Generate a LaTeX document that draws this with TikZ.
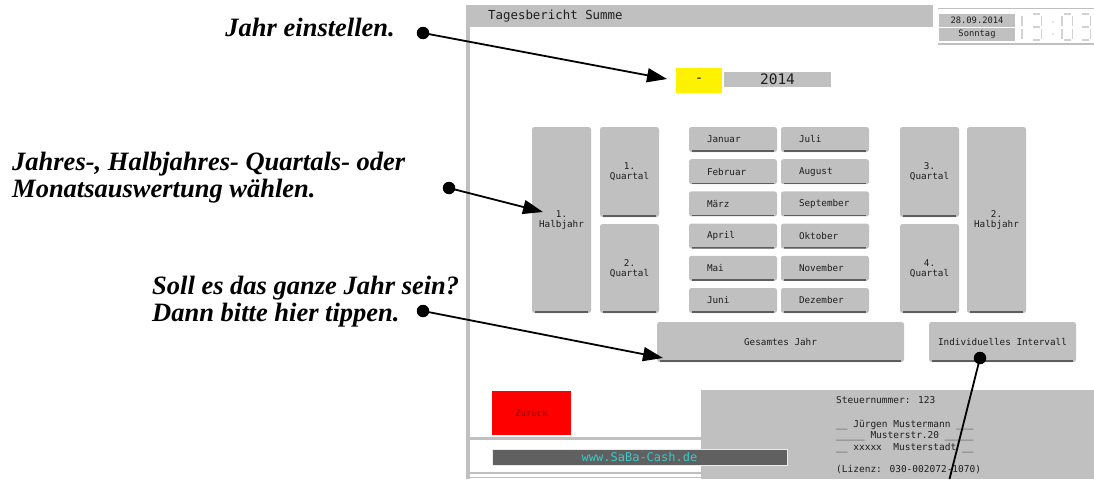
\documentclass[tikz,border=0pt]{standalone}
\usepackage{fontspec}
\newfontfamily\annotfont{Liberation Serif}
\newfontfamily\uifont{DejaVu Sans Mono}
\usetikzlibrary{arrows.meta,calc}
\definecolor{panel}{HTML}{C0C0C0}
\definecolor{btnedge}{HTML}{5E5E5E}
\definecolor{uitext}{HTML}{1E1E1E}
\definecolor{webbar}{HTML}{606060}
\definecolor{webtext}{HTML}{3CC8C8}
\definecolor{backred}{HTML}{FF0000}
\definecolor{backtext}{HTML}{7A0000}
\definecolor{clockgray}{HTML}{D2D2D2}
\begin{document}
\begin{tikzpicture}[x=1pt,y=-1pt,
  annot/.style={font=\annotfont\bfseries\itshape\fontsize{26.5}{27}\selectfont, inner sep=0pt},
  btn/.style={fill=panel, rounded corners=2.5pt, inner sep=0pt, text=uitext,
    font=\uifont\fontsize{9.3}{10}\selectfont, align=center,
    path picture={\draw[btnedge, line width=1.6pt]
      ([xshift=3pt,yshift=0.9pt]path picture bounding box.south west) --
      ([xshift=-3pt,yshift=0.9pt]path picture bounding box.south east);}},
  monthbtn/.style={btn, minimum width=88pt, minimum height=25pt, text width=52pt,
    align=left, inner xsep=18pt},
  tallbtn/.style={btn, minimum width=59pt, minimum height=186pt},
  qbtn/.style={btn, minimum width=59pt},
  widebtn/.style={btn, minimum height=40pt},
  uitxt/.style={font=\uifont\fontsize{9.5}{11.5}\selectfont, text=uitext, inner sep=0pt},
  frameline/.style={draw=panel},
  dot/.style={circle, fill=black, inner sep=0pt, minimum size=12.5pt},
  pointer/.style={draw=black, line width=1.8pt, -{Triangle[length=20pt,width=14pt]}},
  clk/.style={draw=clockgray, line width=1.3pt},
  seg a/.pic={\path[clk] (1.5,0) -- (9,0);},
  seg b/.pic={\path[clk] (10.5,1.5) -- (10.5,11.5);},
  seg c/.pic={\path[clk] (10.5,14.5) -- (10.5,24.5);},
  seg d/.pic={\path[clk] (1.5,26) -- (9,26);},
  seg e/.pic={\path[clk] (0,14.5) -- (0,24.5);},
  seg f/.pic={\path[clk] (0,1.5) -- (0,11.5);},
  seg g/.pic={\path[clk] (1.5,13) -- (9,13);}
]
\useasboundingbox (0,0) rectangle (1094,479);

% ---------- screen frame ----------
\fill[panel] (466,5) rectangle (469.5,479);
\node[fill=panel, minimum width=467pt, minimum height=22pt, inner sep=0pt,
  anchor=north west] (header) at (466,5) {};
\node[font=\uifont\fontsize{12.4}{14}\selectfont, text=uitext, anchor=west, inner sep=0pt]
  (title) at (488,16) {Tagesbericht Summe};

% date box and clock
\draw[frameline, line width=1pt] (938,8.5) -- (1094,8.5);
\draw[frameline, line width=2pt] (938,44) -- (1094,44);
\node[fill=panel, minimum width=76pt, minimum height=13pt, inner sep=0pt,
  font=\uifont\fontsize{8.8}{10}\selectfont, text=uitext] (date) at (977,20.5) {28.09.2014};
\node[fill=panel, minimum width=76pt, minimum height=13pt, inner sep=0pt,
  font=\uifont\fontsize{8.8}{10}\selectfont, text=uitext] (wday) at (977,34.5) {Sonntag};
\foreach \s in {e,f} \pic at (1022,14) {seg \s};
\foreach \s in {a,b,c,d,g} \pic at (1031,14) {seg \s};
\fill[clockgray] (1053,22) circle (1pt) (1053,34) circle (1pt);
\foreach \s in {a,b,c,d,e,f} \pic at (1062,14) {seg \s};
\foreach \s in {a,b,c,d,g} \pic at (1080,14) {seg \s};

% year selector
\node[fill=yellow, minimum width=46pt, minimum height=25pt, inner sep=0pt,
  font=\uifont\fontsize{14}{16}\selectfont, text=uitext] (minus) at (699,80.5) {-};
\node[fill=panel, minimum width=107pt, minimum height=15pt, inner sep=0pt,
  font=\uifont\fontsize{14.5}{16}\selectfont, text=uitext] (year) at (777.5,79.5) {2014};

% half years and quarters
\node[tallbtn] (h1) at (561.5,220) {1.\\Halbjahr};
\node[qbtn, minimum height=90pt] (q1) at (629.5,172) {1.\\Quartal};
\node[qbtn, minimum height=89pt] (q2) at (629.5,268.5) {2.\\Quartal};
\node[qbtn, minimum height=90pt] (q3) at (929.5,172) {3.\\Quartal};
\node[qbtn, minimum height=89pt] (q4) at (929.5,268.5) {4.\\Quartal};
\node[tallbtn] (h2) at (996.5,220) {2.\\Halbjahr};

% months
\node[monthbtn] (m1) at (733,139.5) {Januar};
\node[monthbtn] (m2) at (733,171.7) {Februar};
\node[monthbtn] (m3) at (733,203.9) {März};
\node[monthbtn] (m4) at (733,236.1) {April};
\node[monthbtn] (m5) at (733,268.3) {Mai};
\node[monthbtn] (m6) at (733,300.5) {Juni};
\node[monthbtn] (m7) at (825,139.5) {Juli};
\node[monthbtn] (m8) at (825,171.7) {August};
\node[monthbtn] (m9) at (825,203.9) {September};
\node[monthbtn] (m10) at (825,236.1) {Oktober};
\node[monthbtn] (m11) at (825,268.3) {November};
\node[monthbtn] (m12) at (825,300.5) {Dezember};

% whole year / custom interval
\node[widebtn, minimum width=247pt] (all) at (780.5,342) {Gesamtes Jahr};
\node[widebtn, minimum width=147pt] (ival) at (1002.5,342) {Individuelles Intervall};

% ---------- footer ----------
\node[fill=backred, minimum width=79pt, minimum height=44pt, inner sep=0pt,
  font=\uifont\fontsize{9}{10}\selectfont, text=backtext] (back) at (531.5,413) {Zurück};
\draw[frameline, line width=2.5pt] (469.5,438.5) -- (701,438.5);
\draw[frameline, line width=2pt] (469.5,473) -- (701,473);
\draw[frameline, line width=1.5pt] (469.5,477.5) -- (701,477.5);
\node[fill=panel, minimum width=393pt, minimum height=89pt, inner sep=0pt,
  anchor=north west] (info) at (701,390) {};
\node[fill=webbar, draw=white!92!black, line width=1pt, minimum width=295pt,
  minimum height=16pt, inner sep=0pt, font=\uifont\fontsize{12}{14}\selectfont,
  text=webtext] (web) at (639.5,457) {www.SaBa-Cash.de};
\node[uitxt, anchor=base west] (tax) at (836,403) {Steuernummer: 123};
% a multi-line node's base anchor sits on its last line
\node[uitxt, anchor=base west, align=left] (addr) at (836,450)
  {\_\_ Jürgen Mustermann \_\_\_\\
   \_\_\_\_\_ Musterstr.20 \_\_\_\_\_\\
   \_\_ xxxxx\ \ Musterstadt \_\_};
\node[uitxt, anchor=base west] (lic) at (836,472) {(Lizenz: 030-002072-1070)};

% ---------- annotations ----------
\node[annot, anchor=base east] (t1) at (395,36) {Jahr einstellen.};
\node[annot, anchor=base west, align=left] (t2) at (12,197)
  {Jahres-, Halbjahres- Quartals- oder\\Monatsauswertung wählen.};
\node[annot, anchor=base west, align=left] (t3) at (152,321)
  {Soll es das ganze Jahr sein?\\Dann bitte hier tippen.};

\node[dot] (d1) at (423,33) {};
\node[dot] (d2) at (449,188) {};
\node[dot] (d3) at (423,311) {};
\node[dot] (d4) at (980,358) {};

\coordinate (p1) at (667,79);
\coordinate (p2) at (543,212);
\coordinate (p3) at (663,358);
\coordinate (p4) at (949.5,479);

\draw[pointer] (d1.center) -- (p1);
\draw[pointer] (d2.center) -- (p2);
\draw[pointer] (d3.center) -- (p3);
\draw[draw=black, line width=1.8pt] (d4.center) -- (p4);
\end{tikzpicture}
\end{document}
